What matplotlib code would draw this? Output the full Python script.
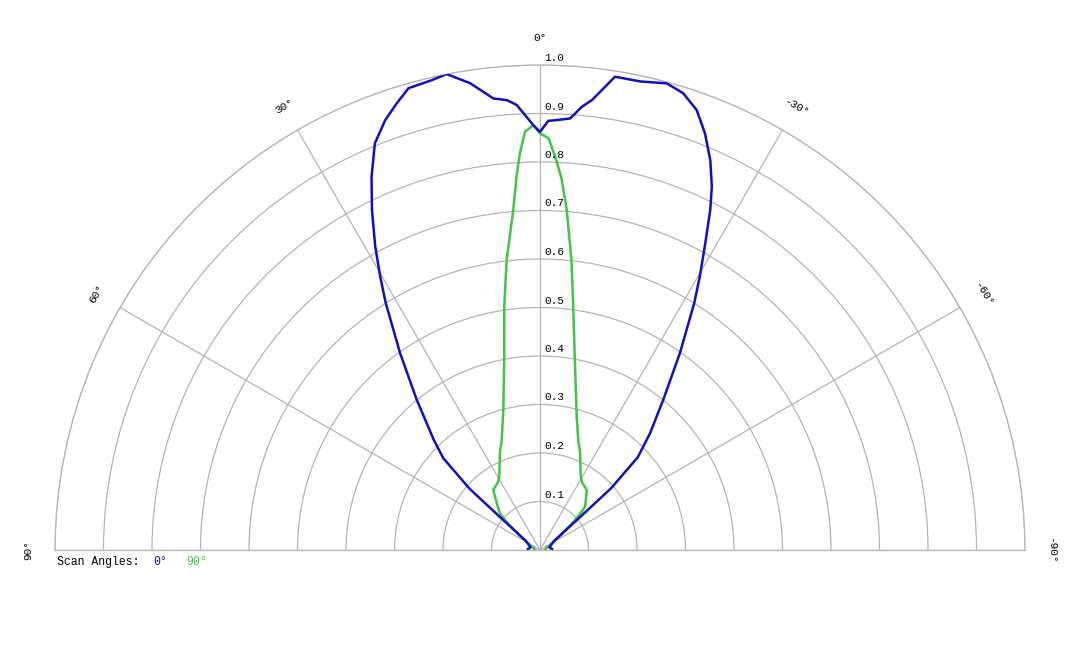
import numpy as np
import matplotlib
matplotlib.use("Agg")
import matplotlib.pyplot as plt
from matplotlib.transforms import offset_copy

# scan 0 deg (blue), angle in degrees, relative intensity
blue_angle = [-85, -75, -57, -53, -50.5, -49, -46.5, -43.3, -39.4, -35.4, -32.0,
              -30.3, -28.5, -26.6, -25.3, -23.6, -21.6, -19.6, -17.4, -15.2,
              -12.1, -9.0, -6.6, -5.4, -4.0, -2.2, -1.1, 0,
              0.9, 3.0, 4.2, 5.9, 8.5, 11.1, 13.0, 15.9, 17.8, 19.8, 22.1,
              24.3, 26.3, 28.5, 30.3, 32.0, 35.4, 39.4, 44.0, 46.5, 49, 50.5,
              53, 57, 75, 85]
blue_r = [0.025, 0.02, 0.035, 0.06, 0.11, 0.195, 0.278, 0.331, 0.400, 0.498, 0.600,
          0.653, 0.712, 0.784, 0.829, 0.877, 0.924, 0.963, 0.987, 0.997,
          0.988, 0.988, 0.934, 0.918, 0.892, 0.887, 0.885, 0.862,
          0.876, 0.919, 0.930, 0.936, 0.973, 1.0, 0.994, 0.990, 0.967, 0.942, 0.905,
          0.844, 0.782, 0.712, 0.653, 0.600, 0.498, 0.400, 0.315, 0.275, 0.192, 0.108,
          0.06, 0.035, 0.02, 0.025]

# scan 90 deg (green)
green_angle = [-90, -70, -55, -50, -47.4, -46.1, -37.9, -31.4, -27.9, -22.5, -19.2,
               -15.4, -10.4, -7.7, -6.2, -4.5, -3.3, -2.2, -1.2, 0,
               0.9, 2.05, 2.9, 3.6, 4.5, 6.55, 8.3, 10.5, 14.7, 19.2, 22.5,
               27.9, 31.4, 37.9, 42.8, 47.5, 50, 55, 70, 90]
green_r = [0.01, 0.015, 0.05, 0.09, 0.117, 0.129, 0.157, 0.165, 0.179, 0.216, 0.240,
           0.285, 0.398, 0.51, 0.601, 0.703, 0.768, 0.812, 0.849, 0.859,
           0.876, 0.863, 0.819, 0.771, 0.703, 0.602, 0.51, 0.405, 0.298, 0.240, 0.216,
           0.179, 0.165, 0.157, 0.131, 0.112, 0.09, 0.05, 0.015, 0.01]

r_ticks = [0.1, 0.2, 0.3, 0.4, 0.5, 0.6, 0.7, 0.8, 0.9, 1.0]
theta_ticks = [-90, -60, -30, 0, 30, 60, 90]

BLUE = "#1010c0"
GREEN = "#44c444"
GRID = "#b4b4b4"
FONT = "Liberation Mono"

W, H = 1080, 648
cx, cy, R = 540, 550, 485  # pole and outer radius, in pixels

fig = plt.figure(figsize=(10.8, 6.48), dpi=100)
# half-disc wedge gets squared by matplotlib: pole sits a quarter up the box
side = 2 * R
ax = fig.add_axes([(cx - R) / W, (H - cy - side / 4) / H, side / W, side / H],
                  projection="polar")
ax.set_theta_zero_location("N")
ax.set_theta_direction(1)
ax.set_thetamin(-90)
ax.set_thetamax(90)
ax.set_rlim(0, 1.0)

ax.set_rticks(r_ticks)
ax.set_yticklabels([])
ax.set_thetagrids(theta_ticks, labels=[""] * len(theta_ticks))
ax.grid(True, color=GRID, linewidth=0.9)
for sp in ax.spines.values():
    sp.set_color(GRID)
    sp.set_linewidth(0.9)

ax.plot(np.deg2rad(blue_angle), blue_r, color=BLUE, lw=1.8, zorder=3)
ax.plot(np.deg2rad(green_angle), green_r, color=GREEN, lw=1.8, zorder=2)

# radial labels along the 0 deg line
off = offset_copy(ax.transData, fig=fig, x=4, y=2, units="dots")
for r in r_ticks:
    ax.text(0, r, f"{r:.1f}", transform=off, ha="left", va="bottom",
            fontsize=8, family=FONT, color="black")

# angle labels, rotated along the arc
for t in theta_ticks:
    ax.text(np.deg2rad(t), 1.055, f"{t}°", rotation=t, rotation_mode="anchor",
            ha="center", va="center", fontsize=8, family=FONT, clip_on=False)

fig.text(57 / W, 1 - 562 / H, "Scan Angles:", fontsize=8.3, family=FONT,
         va="center", ha="left")
fig.text(153 / W, 1 - 562 / H, "0°", fontsize=8.3, family=FONT,
         va="center", ha="left", color=BLUE)
fig.text(186 / W, 1 - 562 / H, "90°", fontsize=8.3, family=FONT,
         va="center", ha="left", color=GREEN)

fig.savefig("out.png", dpi=100)
